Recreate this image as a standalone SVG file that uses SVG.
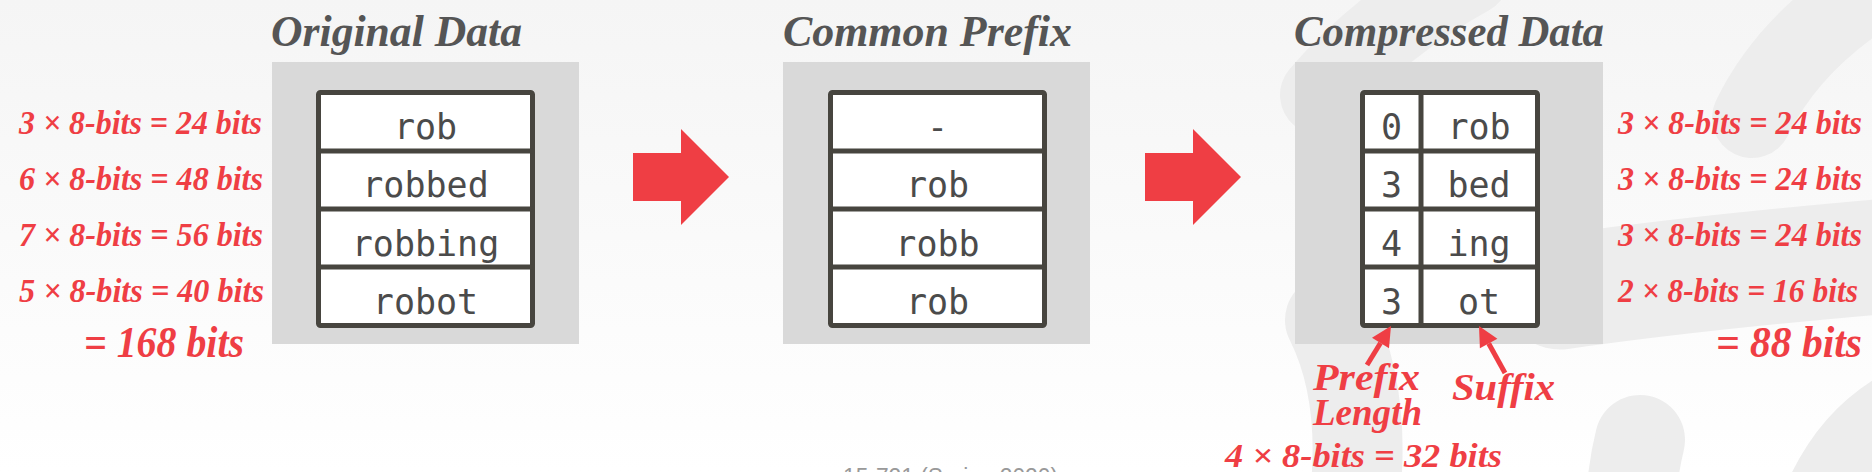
<svg xmlns="http://www.w3.org/2000/svg" width="1872" height="472" viewBox="0 0 1872 472">
<defs>
<linearGradient id="bg" x1="0" y1="0" x2="0" y2="1">
<stop offset="0" stop-color="#f5f5f5"/>
<stop offset="1" stop-color="#ffffff"/>
</linearGradient>
<style>
.wm{fill:none;stroke:#ededed;stroke-linecap:round}
.panel{fill:#d9d9d9}
.tbl{fill:#ffffff;stroke:#47453f;stroke-width:5}
.div{stroke:#47453f;stroke-width:5}
.title{font-family:"Liberation Serif",serif;font-weight:bold;font-style:italic;font-size:45px;fill:#555555}
.cell{font-family:"DejaVu Sans Mono",monospace;font-size:35px;fill:#4b4b4b;text-anchor:middle}
.red{font-family:"Liberation Serif",serif;font-weight:bold;font-style:italic;fill:#ef3e44}
.lbl{font-size:33px}
.tot{font-size:45px}
.note{font-size:38px}
.arrow{fill:#ef3e44}
.foot{font-family:"Liberation Sans",sans-serif;font-size:23px;fill:#999999}
</style>
</defs>
<rect width="1872" height="472" fill="url(#bg)"/>
<g id="watermark">
<path class="wm" d="M1752,118 Q1790,40 1880,-15" stroke-width="80"/>
<path class="wm" d="M1560,292 Q1700,272 1900,255" stroke-width="115"/>
<path class="wm" d="M1910,405 Q1840,440 1812,530" stroke-width="80"/>
<path class="wm" d="M1640,440 Q1630,480 1630,530" stroke-width="90"/>
<path class="wm" d="M1330,320 Q1370,400 1352,520" stroke-width="90"/>
<path class="wm" d="M1470,-25 Q1380,25 1320,95" stroke-width="80"/>
</g>

<g id="original-data">
<text class="title" x="271" y="46" textLength="251" lengthAdjust="spacingAndGlyphs">Original Data</text>
<rect class="panel" x="272" y="62" width="307" height="282"/>
<rect class="tbl" x="318.5" y="92.5" width="214" height="233" rx="2"/>
<line class="div" x1="318" y1="151" x2="533" y2="151"/>
<line class="div" x1="318" y1="209" x2="533" y2="209"/>
<line class="div" x1="318" y1="267" x2="533" y2="267"/>
<text class="cell" x="425.5" y="138.5">rob</text>
<text class="cell" x="425.5" y="197">robbed</text>
<text class="cell" x="425.5" y="255.5">robbing</text>
<text class="cell" x="425.5" y="314">robot</text>
</g>

<g id="original-sizes">
<text class="red lbl" x="19" y="134" textLength="243" lengthAdjust="spacingAndGlyphs">3 × 8-bits = 24 bits</text>
<text class="red lbl" x="19" y="190" textLength="244" lengthAdjust="spacingAndGlyphs">6 × 8-bits = 48 bits</text>
<text class="red lbl" x="19" y="246" textLength="244" lengthAdjust="spacingAndGlyphs">7 × 8-bits = 56 bits</text>
<text class="red lbl" x="19" y="302" textLength="245" lengthAdjust="spacingAndGlyphs">5 × 8-bits = 40 bits</text>
<text class="red tot" x="84" y="357" textLength="160" lengthAdjust="spacingAndGlyphs">= 168 bits</text>
</g>

<g id="common-prefix">
<text class="title" x="783" y="46" textLength="289" lengthAdjust="spacingAndGlyphs">Common Prefix</text>
<rect class="panel" x="783" y="62" width="307" height="282"/>
<rect class="tbl" x="830.5" y="92.5" width="214" height="233" rx="2"/>
<line class="div" x1="830" y1="151" x2="1045" y2="151"/>
<line class="div" x1="830" y1="209" x2="1045" y2="209"/>
<line class="div" x1="830" y1="267" x2="1045" y2="267"/>
<text class="cell" x="937.5" y="138.5">-</text>
<text class="cell" x="937.5" y="197">rob</text>
<text class="cell" x="937.5" y="255.5">robb</text>
<text class="cell" x="937.5" y="314">rob</text>
</g>

<g id="compressed-data">
<text class="title" x="1294" y="46" textLength="310" lengthAdjust="spacingAndGlyphs">Compressed Data</text>
<rect class="panel" x="1295" y="62" width="308" height="282"/>
<rect class="tbl" x="1362.5" y="92.5" width="175" height="233" rx="2"/>
<line class="div" x1="1362" y1="151" x2="1538" y2="151"/>
<line class="div" x1="1362" y1="209" x2="1538" y2="209"/>
<line class="div" x1="1362" y1="267" x2="1538" y2="267"/>
<line class="div" x1="1421" y1="92" x2="1421" y2="326"/>
<text class="cell" x="1391.5" y="138.5">0</text>
<text class="cell" x="1391.5" y="197">3</text>
<text class="cell" x="1391.5" y="255.5">4</text>
<text class="cell" x="1391.5" y="314">3</text>
<text class="cell" x="1479" y="138.5">rob</text>
<text class="cell" x="1479" y="197">bed</text>
<text class="cell" x="1479" y="255.5">ing</text>
<text class="cell" x="1479" y="314">ot</text>
</g>

<g id="compressed-sizes">
<text class="red lbl" x="1618" y="134" textLength="244" lengthAdjust="spacingAndGlyphs">3 × 8-bits = 24 bits</text>
<text class="red lbl" x="1618" y="190" textLength="244" lengthAdjust="spacingAndGlyphs">3 × 8-bits = 24 bits</text>
<text class="red lbl" x="1618" y="246" textLength="244" lengthAdjust="spacingAndGlyphs">3 × 8-bits = 24 bits</text>
<text class="red lbl" x="1618" y="302" textLength="240" lengthAdjust="spacingAndGlyphs">2 × 8-bits = 16 bits</text>
<text class="red tot" x="1716" y="357" textLength="146" lengthAdjust="spacingAndGlyphs">= 88 bits</text>
</g>

<g id="prefix-length-label">
<text class="red note" x="1313" y="390" textLength="107" lengthAdjust="spacingAndGlyphs">Prefix</text>
<text class="red note" x="1313" y="425" textLength="109" lengthAdjust="spacingAndGlyphs">Length</text>
<text class="red" x="1225" y="467" font-size="33" textLength="277" lengthAdjust="spacingAndGlyphs">4 × 8-bits = 32 bits</text>
</g>

<g id="suffix-label">
<text class="red note" x="1452" y="400" textLength="103" lengthAdjust="spacingAndGlyphs">Suffix</text>
</g>

<g id="connectors">
<polygon class="arrow" points="633,153 681,153 681,129 729,177 681,225 681,201 633,201"/>
<polygon class="arrow" points="1145,153 1193,153 1193,129 1241,177 1193,225 1193,201 1145,201"/>
<line x1="1367" y1="365" x2="1380.5" y2="343" stroke="#ef3e44" stroke-width="5"/>
<polygon class="arrow" points="1391,326 1389,348.3 1372,337.8"/>
<line x1="1505" y1="373" x2="1488.7" y2="343.5" stroke="#ef3e44" stroke-width="5"/>
<polygon class="arrow" points="1479,326 1497.4,338.7 1479.9,348.3"/>
</g>

<text class="foot" x="843" y="485" textLength="215" lengthAdjust="spacingAndGlyphs">15-721 (Spring 2020)</text>
</svg>
